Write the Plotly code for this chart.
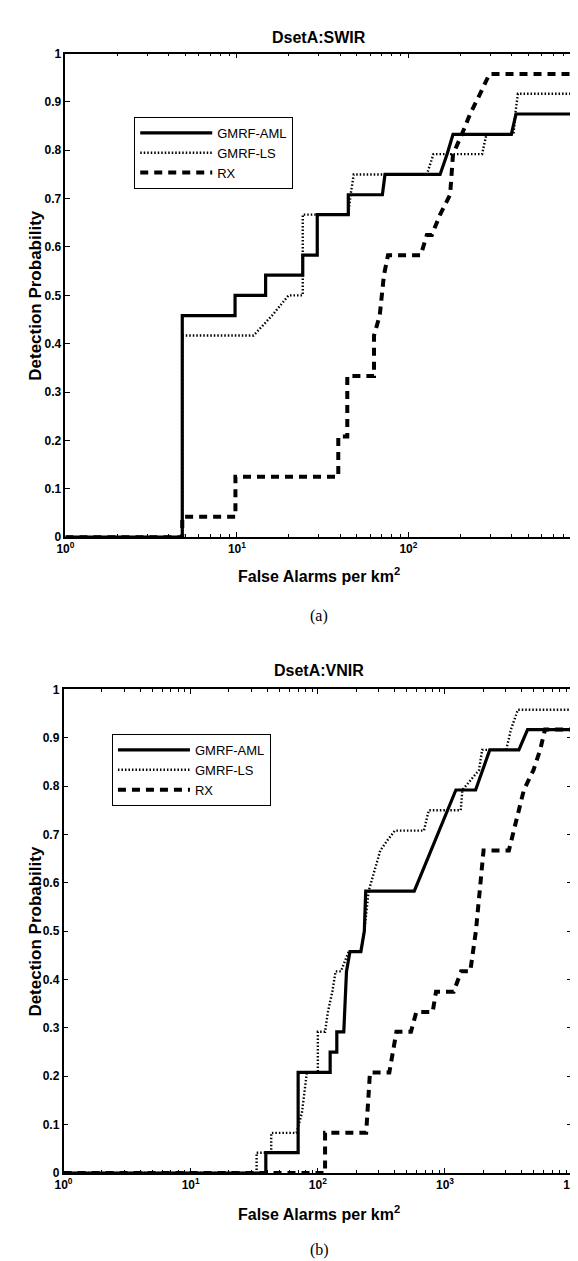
import plotly.graph_objects as go

# ---------------- data: (a) DsetA:SWIR ----------------
swir_aml_x = [1, 4.8, 4.8, 9.75, 9.75, 14.7, 14.7, 24.2, 24.2, 29.4, 29.4, 44.6, 44.6, 70.5, 73, 153, 168, 182, 398, 424, 1000]
swir_aml_y = [0, 0, 0.458, 0.458, 0.5, 0.5, 0.542, 0.542, 0.583, 0.583, 0.667, 0.667, 0.708, 0.708, 0.75, 0.75, 0.792, 0.833, 0.833, 0.875, 0.875]

swir_ls_x = [1, 4.8, 4.8, 12.5, 16, 20, 24.2, 24.2, 44.6, 46, 48, 128, 140, 269, 285, 410, 420, 435, 1000]
swir_ls_y = [0, 0, 0.417, 0.417, 0.458, 0.5, 0.5, 0.667, 0.667, 0.708, 0.75, 0.75, 0.792, 0.792, 0.833, 0.833, 0.875, 0.917, 0.917]

swir_rx_x = [1, 4.8, 4.8, 9.8, 9.8, 39, 39, 44, 44, 63, 63, 68, 72, 76, 118, 128, 137, 153, 175, 182, 205, 229, 262, 297, 1000]
swir_rx_y = [0, 0, 0.042, 0.042, 0.125, 0.125, 0.208, 0.208, 0.333, 0.333, 0.417, 0.458, 0.542, 0.583, 0.583, 0.625, 0.625, 0.667, 0.708, 0.792, 0.833, 0.875, 0.917, 0.958, 0.958]

# ---------------- data: (b) DsetA:VNIR ----------------
vnir_aml_x = [1, 39, 39, 70, 70, 125, 125, 141, 141, 160, 168, 179, 218, 232, 238, 573, 667, 775, 901, 1047, 1218, 1740, 1974, 2250, 3810, 4460, 10000]
vnir_aml_y = [0, 0, 0.042, 0.042, 0.208, 0.208, 0.25, 0.25, 0.292, 0.292, 0.417, 0.458, 0.458, 0.5, 0.583, 0.583, 0.625, 0.667, 0.708, 0.75, 0.792, 0.792, 0.833, 0.875, 0.875, 0.917, 0.917]

vnir_ls_x = [1, 33, 33, 43, 43, 68, 75, 82, 100, 100, 114, 120, 130, 138, 152, 175, 218, 232, 251, 310, 357, 403, 683, 745, 1330, 1370, 1850, 1960, 3030, 3300, 3740, 10000]
vnir_ls_y = [0, 0, 0.042, 0.042, 0.083, 0.083, 0.125, 0.208, 0.208, 0.292, 0.292, 0.333, 0.375, 0.417, 0.417, 0.458, 0.458, 0.5, 0.583, 0.667, 0.69, 0.708, 0.708, 0.75, 0.75, 0.792, 0.833, 0.875, 0.875, 0.917, 0.958, 0.958]

vnir_rx_x = [1, 114, 114, 240, 257, 365, 415, 540, 595, 800, 850, 1170, 1340, 1580, 1750, 2010, 3180, 3490, 4170, 4960, 5600, 6120, 10000]
vnir_rx_y = [0, 0, 0.083, 0.083, 0.208, 0.208, 0.292, 0.292, 0.333, 0.333, 0.375, 0.375, 0.417, 0.417, 0.5, 0.667, 0.667, 0.708, 0.792, 0.833, 0.875, 0.917, 0.917]

series_names = ["GMRF-AML", "GMRF-LS", "RX"]
titles = ["DsetA:SWIR", "DsetA:VNIR"]
captions = ["(a)", "(b)"]
y_tick_vals = [0, 0.1, 0.2, 0.3, 0.4, 0.5, 0.6, 0.7, 0.8, 0.9, 1]
y_tick_text = ["0", "0.1", "0.2", "0.3", "0.4", "0.5", "0.6", "0.7", "0.8", "0.9", "1"]
x_label = "False Alarms per km<sup>2</sup>"
y_label = "Detection Probability"

# ---------------- layout geometry (pixels) ----------------
W, H = 578, 1261
def px(x):
    return x / W
def py(y):
    return 1 - y / H

SANS = "Liberation Sans, Arial, Helvetica, sans-serif"
SERIF = "Liberation Serif, Times New Roman, serif"

styles = [
    dict(color="black", width=3.2, dash="solid"),
    dict(color="black", width=2.4, dash="1.5px,2px"),
    dict(color="black", width=4.0, dash="8px,6px"),
]

fig = go.Figure()

panels = [
    dict(xs=[swir_aml_x, swir_ls_x, swir_rx_x], ys=[swir_aml_y, swir_ls_y, swir_rx_y],
         xaxis="x", yaxis="y", legend="legend"),
    dict(xs=[vnir_aml_x, vnir_ls_x, vnir_rx_x], ys=[vnir_aml_y, vnir_ls_y, vnir_rx_y],
         xaxis="x2", yaxis="y2", legend="legend2"),
]

for p in panels:
    for name, xv, yv, st in zip(series_names, p["xs"], p["ys"], styles):
        fig.add_trace(go.Scatter(
            x=xv, y=yv, mode="lines", name=name,
            line=dict(color=st["color"], width=st["width"], dash=st["dash"]),
            xaxis=p["xaxis"], yaxis=p["yaxis"], legend=p["legend"],
            showlegend=True, hoverinfo="skip",
        ))

def minor_vals(decades):
    out = []
    for d in range(decades):
        for m in range(2, 10):
            out.append(m * 10 ** d)
    return out

def xaxis_cfg(domain, rng, decades, labels):
    return dict(
        type="log", domain=domain, range=rng,
        tickvals=[10 ** d for d in range(len(labels))],
        ticktext=labels,
        ticks="inside", ticklen=5, tickwidth=1, tickcolor="black",
        minor=dict(tickvals=minor_vals(decades), ticks="inside", ticklen=3,
                   tickwidth=1, tickcolor="black", showgrid=False),
        showline=True, linecolor="black", linewidth=1.5, mirror="allticks",
        showgrid=False, zeroline=False,
        ticklabeloverflow="allow",
        tickfont=dict(family=SANS, size=12, color="black", weight="bold"),
        fixedrange=True,
    )

def yaxis_cfg(domain, anchor):
    return dict(
        domain=domain, range=[0, 1], anchor=anchor,
        tickvals=y_tick_vals, ticktext=y_tick_text,
        ticks="inside", ticklen=5, tickwidth=1, tickcolor="black",
        showline=True, linecolor="black", linewidth=1.5, mirror="allticks",
        showgrid=False, zeroline=False,
        tickfont=dict(family=SANS, size=12, color="black", weight="bold"),
        fixedrange=True,
    )

top_x_dom = [px(50), 1.0]
top_y_dom = [py(528), py(39)]
bot_x_dom = [px(48), px(573)]
bot_y_dom = [py(1171), py(682)]

legend_common = dict(xanchor="left", yanchor="top",
                     bgcolor="white", bordercolor="black", borderwidth=1,
                     font=dict(family=SANS, size=13, color="black"),
                     itemwidth=72, tracegroupgap=0, traceorder="normal")

fig.update_layout(
    width=W, height=H,
    margin=dict(l=0, r=0, t=0, b=0),
    paper_bgcolor="white", plot_bgcolor="white",
    xaxis=dict(xaxis_cfg(top_x_dom, [0, 2.983], 3,
                         ["10<sup>0</sup>", "10<sup>1</sup>", "10<sup>2</sup>"]), anchor="y"),
    yaxis=yaxis_cfg(top_y_dom, "x"),
    xaxis2=dict(xaxis_cfg(bot_x_dom, [0, 4], 4,
                          ["10<sup>0</sup>", "10<sup>1</sup>", "10<sup>2</sup>", "10<sup>3</sup>", "10<sup>4</sup>"]), anchor="y2"),
    yaxis2=yaxis_cfg(bot_y_dom, "x2"),
    legend=dict(legend_common, x=px(121), y=py(103)),
    legend2=dict(legend_common, x=px(98), y=py(727)),
)

ann = []
# titles
for t, yy in zip(titles, [23, 663]):
    ann.append(dict(text=t, x=px(312), y=py(yy), xref="paper", yref="paper",
                    showarrow=False, xanchor="center", yanchor="middle",
                    font=dict(family=SANS, size=16, color="black", weight="bold")))
# x labels
for yy in [566, 1211]:
    ann.append(dict(text=x_label, x=px(312), y=py(yy), xref="paper", yref="paper",
                    showarrow=False, xanchor="center", yanchor="middle",
                    font=dict(family=SANS, size=16, color="black", weight="bold")))
# y labels
for yy in [(39 + 528) / 2, (682 + 1171) / 2]:
    ann.append(dict(text=y_label, x=px(19), y=py(yy), xref="paper", yref="paper",
                    showarrow=False, xanchor="center", yanchor="middle", textangle=-90,
                    font=dict(family=SANS, size=17, color="black", weight="bold")))
# captions
for c, yy in zip(captions, [608, 1249]):
    ann.append(dict(text=c, x=px(312), y=py(yy), xref="paper", yref="paper",
                    showarrow=False, xanchor="center", yanchor="middle",
                    font=dict(family=SERIF, size=16, color="black")))
fig.update_layout(annotations=ann)

fig.write_html("out.html")
